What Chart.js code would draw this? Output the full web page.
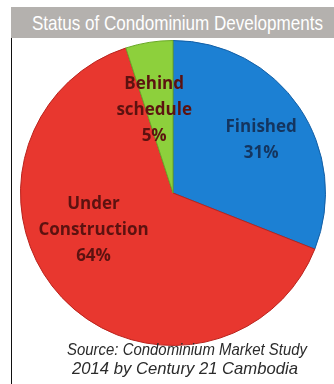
<!DOCTYPE html>
<html>
<head>
<meta charset="utf-8">
<script src="https://cdn.jsdelivr.net/npm/chart.js@4"></script>
<style>
  body { margin: 0; background: #fff; width: 334px; height: 384px; overflow: hidden; position: relative; }
  #title {
    position: absolute; left: 11px; top: 7px; width: 323px; height: 31px;
    background: #b4b1ae;
  }
  #title span {
    position: absolute; left: 21px; top: 0; color: #fff; white-space: nowrap;
    font-family: "Liberation Sans", Arial, sans-serif; font-size: 21px; line-height: 31px;
    transform-origin: 0 0;
  }
  #rule { position: absolute; left: 11px; top: 38px; width: 1px; height: 346px; background: #111; }
  #box { position: absolute; left: 20px; top: 40px; width: 306px; height: 306px; }
  .src {
    position: absolute; white-space: nowrap; color: #2b2b2b;
    font-family: "Liberation Sans", Arial, sans-serif; font-style: italic; font-size: 17px; line-height: 18px;
    transform-origin: 0 0;
  }
</style>
</head>
<body>
<div id="title"><span data-w="291">Status of Condominium Developments</span></div>
<div id="rule"></div>
<div id="box"><canvas id="chart"></canvas></div>
<div class="src" style="left:67px; top:341px" data-w="240">Source: Condominium Market Study</div>
<div class="src" style="left:72px; top:360px" data-w="226">2014 by Century 21 Cambodia</div>
<script>
var labels = ["Finished", "Under Construction", "Behind schedule"];
var shares = [31, 64, 5];
var labelLines = [["Finished", "31%"], ["Under", "Construction", "64%"], ["Behind", "schedule", "5%"]];

var baseColors = ["#1c80d3", "#e8372f", "#8dd03c"];
var edgeColors = ["#135fa6", "#b9231d", "#6aa827"];
var textColors = ["#14355f", "#5c1210", "#5c1210"];
// nudges for each label, in pixels, from the slice mid point
var nudges = [[15, -3], [-15, -23], [-5, 5]];

// squeeze the narrow captions to their widths
document.querySelectorAll("[data-w]").forEach(function (el) {
  var w = el.getBoundingClientRect().width;
  el.style.transform = "scaleX(" + (+el.dataset.w / w) + ")";
});

function shade(ctx) {
  var i = ctx.dataIndex;
  var arc = ctx.element;
  if (!arc || !arc.outerRadius) return baseColors[i];
  var g = ctx.chart.ctx.createRadialGradient(arc.x, arc.y, 0, arc.x, arc.y, arc.outerRadius);
  g.addColorStop(0, baseColors[i]);
  g.addColorStop(0.86, baseColors[i]);
  g.addColorStop(1, edgeColors[i]);
  return g;
}

var sliceText = {
  id: "sliceText",
  afterDatasetsDraw: function (chart) {
    var c = chart.ctx;
    var arcs = chart.getDatasetMeta(0).data;
    c.save();
    c.font = "bold 17px 'Open Sans', 'DejaVu Sans', sans-serif";
    c.textAlign = "center";
    c.textBaseline = "middle";
    arcs.forEach(function (arc, i) {
      var mid = (arc.startAngle + arc.endAngle) / 2;
      var r = arc.outerRadius * 0.58;
      var x = arc.x + Math.cos(mid) * r + nudges[i][0];
      var y = arc.y + Math.sin(mid) * r + nudges[i][1];
      var lines = labelLines[i];
      var top = y - (lines.length - 1) * 26 / 2;
      c.fillStyle = textColors[i];
      lines.forEach(function (t, k) { c.fillText(t, x, top + k * 26); });
    });
    c.restore();
  }
};

new Chart(document.getElementById("chart"), {
  type: "pie",
  data: {
    labels: labels,
    datasets: [{
      data: shares,
      backgroundColor: shade,
      borderColor: edgeColors,
      borderWidth: 1
    }]
  },
  options: {
    responsive: true,
    maintainAspectRatio: false,
    animation: false,
    events: [],
    layout: { padding: 0 },
    plugins: {
      legend: { display: false },
      tooltip: { enabled: false }
    }
  },
  plugins: [sliceText]
});
</script>
</body>
</html>
